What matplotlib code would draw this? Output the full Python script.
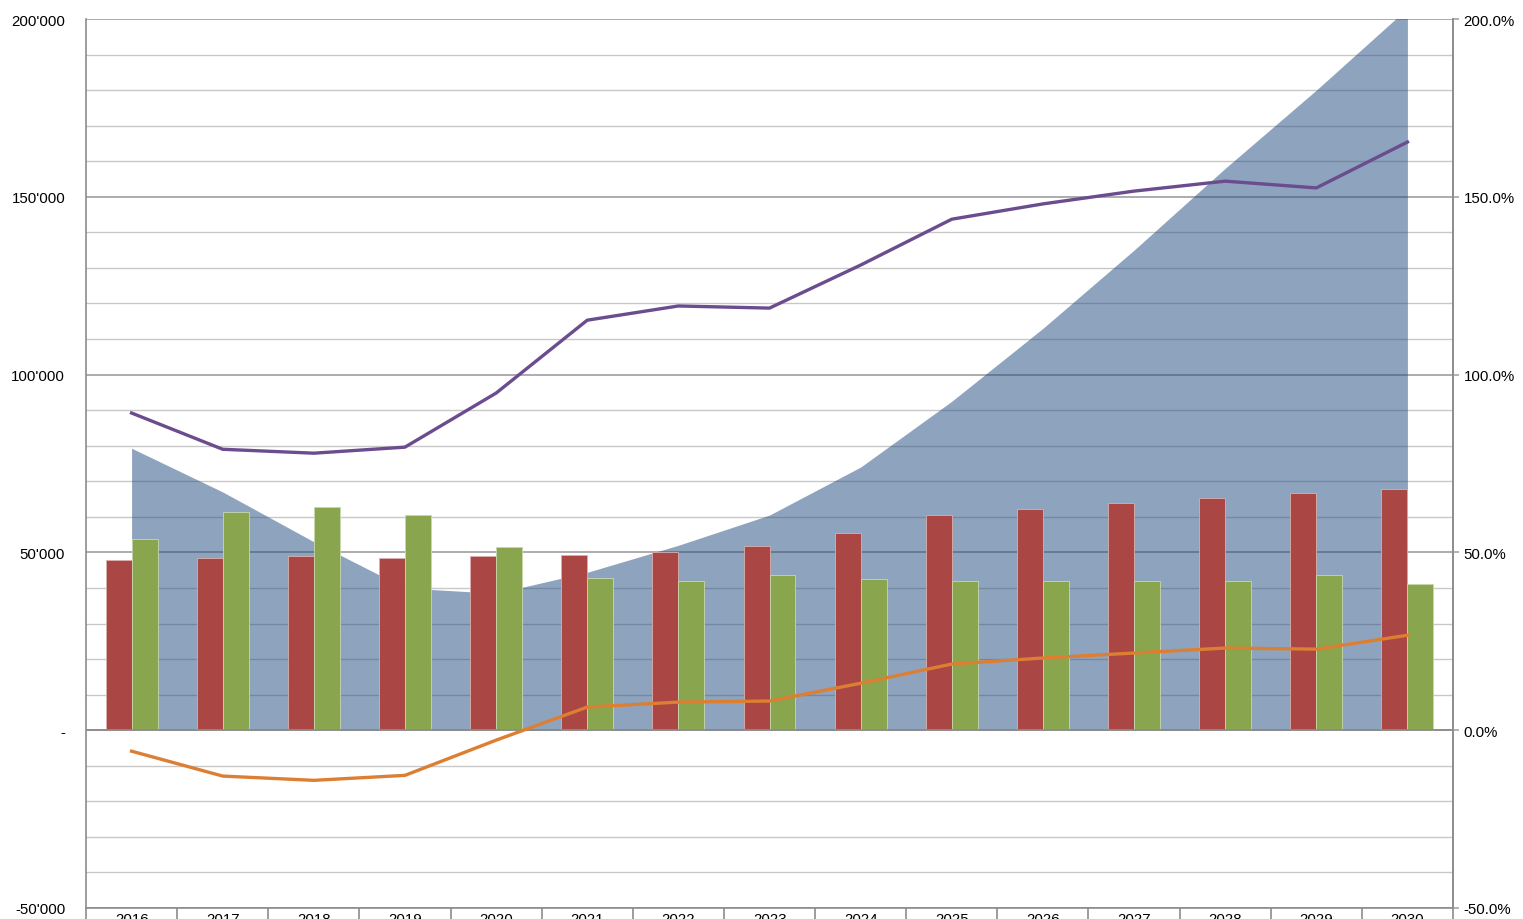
import matplotlib
matplotlib.use("Agg")
import matplotlib.pyplot as plt
import numpy as np
from matplotlib.ticker import FuncFormatter, MultipleLocator, FixedLocator

plt.rcParams['font.family'] = ['Liberation Sans', 'DejaVu Sans']

years = ['2016', '2017', '2018', '2019', '2020', '2021', '2022', '2023', '2024',
         '2025', '2026', '2027', '2028', '2029', '2030']
area_vals = [79300, 67000, 53000, 40000, 38500, 44400, 52000, 60500, 74000,
             92500, 113000, 135000, 158000, 180000, 203000]
red_vals = [47800, 48400, 49000, 48400, 49000, 49200, 50000, 51800, 55400,
            60500, 62200, 63900, 65300, 66700, 67800]
green_vals = [53700, 61300, 62700, 60500, 51500, 42800, 41900, 43600, 42500,
              41900, 41900, 41900, 41900, 43600, 41100]
purple_pct = [89.2, 79.0, 77.9, 79.6, 94.8, 115.3, 119.3, 118.7, 130.8,
              143.7, 148.0, 151.6, 154.4, 152.5, 165.4]
orange_pct = [-5.9, -12.9, -14.1, -12.7, -2.8, 6.5, 7.9, 8.2, 13.2,
              18.6, 20.3, 21.7, 23.1, 22.8, 26.7]

W, H = 1523, 920
fig = plt.figure(figsize=(W / 100, H / 100), dpi=100)
ax = fig.add_axes([86 / W, 11 / H, (1453 - 86) / W, (909 - 20) / H])

x = np.arange(len(years))
ax.set_xlim(-0.5, len(years) - 0.5)
ax.set_ylim(-50000, 200000)

# gridlines
for v in range(-50000, 200001, 10000):
    if v % 50000 == 0:
        ax.axhline(v, color='#a6a6a6', lw=1.3, zorder=0)
    else:
        ax.axhline(v, color='#c8c8c8', lw=1.0, zorder=0)

ax.fill_between(x, 0, area_vals, color='#1F497D', alpha=0.5, lw=0, zorder=1)

bw = 0.285
ax.bar(x - bw / 2, red_vals, width=bw, color='#AA4644', edgecolor='#d9b0ae',
       lw=0.6, zorder=2)
ax.bar(x + bw / 2, green_vals, width=bw, color='#89A54E', edgecolor='#c8d7ad',
       lw=0.6, zorder=2)

ax.axhline(0, color='#8c8c8c', lw=1.3, zorder=3)

for s in ['top']:
    ax.spines[s].set_visible(False)
for s in ['left', 'right', 'bottom']:
    ax.spines[s].set_color('#8c8c8c')
    ax.spines[s].set_linewidth(1.2)

def left_fmt(v, pos):
    if v == 0:
        return '-'
    s = f"{int(abs(v)):,}".replace(',', "'")
    return ('-' if v < 0 else '') + s

ax.yaxis.set_major_locator(MultipleLocator(50000))
ax.yaxis.set_major_formatter(FuncFormatter(left_fmt))
ax.tick_params(axis='y', length=0, pad=15, labelsize=10.8, colors='black')

# x axis: ticks at boundaries, labels at centers
ax.xaxis.set_major_locator(FixedLocator(np.arange(-0.5, len(years), 1.0)))
ax.xaxis.set_major_formatter(FuncFormatter(lambda v, p: ''))
ax.set_xticks(x, minor=True)
ax.set_xticklabels(years, minor=True)
ax.tick_params(axis='x', which='major', length=14, color='#8c8c8c', width=1.2)
ax.tick_params(axis='x', which='minor', length=0, pad=3, labelsize=10.8)

ax2 = ax.twinx()
ax2.set_ylim(-50, 200)
ax2.plot(x, purple_pct, color='#6B4C8E', lw=2.4, zorder=5)
ax2.plot(x, orange_pct, color='#DD7F32', lw=2.4, zorder=5)
ax2.yaxis.set_major_locator(MultipleLocator(50))
ax2.yaxis.set_major_formatter(FuncFormatter(lambda v, p: f"{v:.1f}%"))
ax2.tick_params(axis='y', length=4.5, color='#a6a6a6', width=1.2, pad=3,
                labelsize=10.8)
for s in ['top', 'left', 'bottom']:
    ax2.spines[s].set_visible(False)
ax2.spines['right'].set_color('#8c8c8c')
ax2.spines['right'].set_linewidth(1.2)

fig.savefig('out.png', dpi=100)
